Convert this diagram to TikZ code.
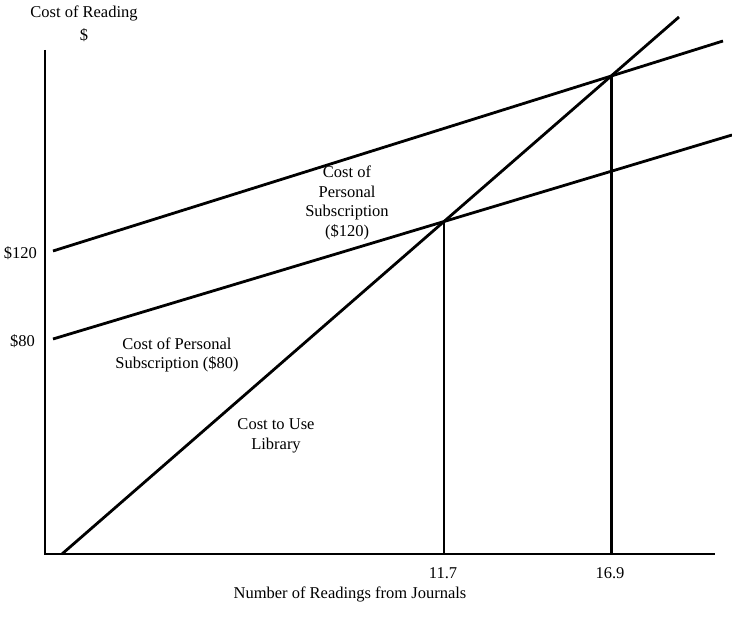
\documentclass[tikz,border=0pt]{standalone}
\usepackage{fontspec}
\setmainfont{Liberation Serif}
\usetikzlibrary{positioning, intersections, calc}

\begin{document}
\begin{tikzpicture}[
    x=1pt, y=1pt,
    axisline/.style={line width=2.8pt, line cap=butt},
    costline/.style={line width=2.8pt, line cap=butt},
    dropline/.style={line width=2.8pt},
    axislabel/.style={font=\fontsize{16.5}{19.5}\selectfont, inner sep=0pt},
    ticklabel/.style={font=\fontsize{16.5}{19.5}\selectfont, inner sep=0pt},
    curvelabel/.style={font=\fontsize{16.5}{19.5}\selectfont, align=center, inner sep=0pt},
]
\useasboundingbox (0,0) rectangle (732,623);

% ============ Axes ============
\coordinate (origin) at (45,69);
\coordinate (ytop) at (45,573);
\coordinate (xend) at (715,69);
\draw[axisline] (ytop) -- (origin) -- (xend);

\node[axislabel] (ytitle) at (84,610) {Cost of Reading};
\node[axislabel, below=8pt of ytitle] (ydollar) {\$};
\node[axislabel] (xtitle) at (350,29) {Number of Readings from Journals};

% ============ Cost lines ============
\coordinate (libstart) at (62,69);
\coordinate (libend) at (679,606);
\coordinate (subAstart) at (53,372);
\coordinate (subAend) at (723,582);
\coordinate (subBstart) at (53,284);
\coordinate (subBend) at (732,488);

\draw[costline, name path=library] (libstart) -- (libend);
\draw[costline, name path=subA] (subAstart) -- (subAend);
\draw[costline, name path=subB] (subBstart) -- (subBend);

% break-even points dropped to the axis
\path[name intersections={of=library and subB, by=evenB}];
\path[name intersections={of=library and subA, by=evenA}];
\draw[dropline] (evenB) -- (evenB |- origin);
\draw[dropline] (evenA) -- (evenA |- origin);

% ============ Labels ============
\node[ticklabel, anchor=east] (priceA) at (37,370) {\$120};
\node[ticklabel, anchor=east] (priceB) at (35,282) {\$80};
\node[ticklabel] (readB) at (443,50) {11.7};
\node[ticklabel] (readA) at (610,50) {16.9};

\node[curvelabel] (subAlabel) at (347,420) {Cost of\\Personal\\Subscription\\(\$120)};
\node[curvelabel] (subBlabel) at (177,268) {Cost of Personal\\Subscription (\$80)};
\node[curvelabel] (liblabel) at (276,187) {Cost to Use\\Library};

\end{tikzpicture}
\end{document}
